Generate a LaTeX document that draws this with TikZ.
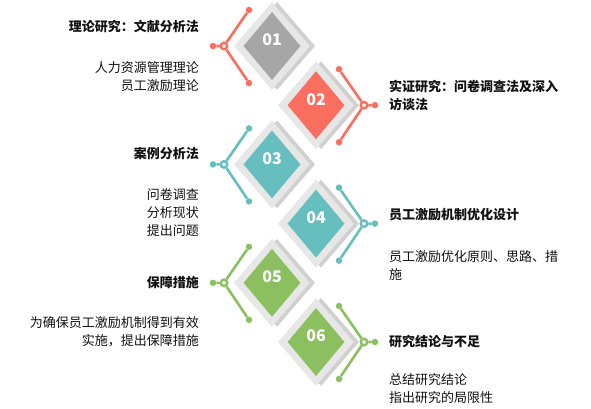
\documentclass[tikz,border=0pt]{standalone}
\usepackage{fontspec}
\setmainfont{Noto Sans CJK SC}
\usetikzlibrary{shapes.geometric}

\definecolor{tilegray}{HTML}{A6A6A6}
\definecolor{coralred}{HTML}{F96E5E}
\definecolor{tealblue}{HTML}{67BEBF}
\definecolor{leafgreen}{HTML}{8CBF5F}
\definecolor{framegray}{HTML}{E7E7E7}
\definecolor{shadegray}{HTML}{D0D0D0}
\definecolor{inkblack}{HTML}{111111}

\begin{document}
\begin{tikzpicture}[x=1pt,y=-1pt,
    backdrop/.style={diamond,fill=shadegray,minimum width=76pt,minimum height=88pt,inner sep=0pt},
    rim/.style={backdrop,fill=framegray},
    tile/.style={diamond,minimum width=57pt,minimum height=68pt,inner sep=0pt},
    num/.style={text=white,font=\bfseries\fontsize{16}{16}\selectfont,inner sep=0pt},
    dot/.style={circle,fill=#1,minimum size=6.5pt,inner sep=0pt},
    ring/.style={circle,draw=#1,fill=white,line width=2.4pt,minimum size=6.5pt,inner sep=0pt},
    wire/.style={draw=#1,line width=2.6pt},
    head/.style={text=inkblack,font=\bfseries\fontsize{13}{18}\selectfont,inner sep=0pt},
    body/.style={text=inkblack,font=\fontsize{13}{18}\selectfont,inner sep=0pt}]

  \useasboundingbox (0,0) rectangle (591,408);

  % stacked diamonds
  \foreach \n/\x/\y/\c in {1/272/46/tilegray,2/316/105.2/coralred,3/272/164.4/tealblue,
                           4/316/223.6/tealblue,5/272/282.8/leafgreen,6/316/342/leafgreen} {
    \node[backdrop] (s\n) at (\x+5,\y) {};
    \node[rim] (f\n) at (\x,\y) {};
    \node[tile,fill=\c] (t\n) at (\x,\y) {};
    \node[num] (n\n) at (\x,\y-6) {0\n};
  }

  % brackets with ring
  \foreach \n/\s/\c in {1/-1/coralred,2/1/coralred,3/-1/tealblue,
                        4/1/tealblue,5/-1/leafgreen,6/1/leafgreen} {
    \node[ring=\c] (r\n) at ([shift={(\s*48,0)}]t\n.center) {};
    \node[dot=\c] (e\n) at ([shift={(\s*59,0)}]t\n.center) {};
    \node[dot=\c] (a\n) at ([shift={(\s*23,-36)}]t\n.center) {};
    \node[dot=\c] (b\n) at ([shift={(\s*23,37)}]t\n.center) {};
    \draw[wire=\c] (a\n) -- (r\n) -- (b\n) (r\n) -- (e\n);
  }

  % left column
  \node[head,anchor=east] (h1) at (199,26.7) {理论研究：文献分析法};
  \node[body,anchor=east,align=right] (d1) at (199,76.5) {人力资源管理理论\\员工激励理论};
  \node[head,anchor=east] (h3) at (199,154) {案例分析法};
  \node[body,anchor=east,align=right] (d3) at (199,213) {问卷调查\\分析现状\\提出问题};
  \node[head,anchor=east] (h5) at (199,282.7) {保障措施};
  \node[body,anchor=east,align=right] (d5) at (199,331.7) {为确保员工激励机制得到有效\\实施，提出保障措施};

  % right column
  \node[head,anchor=west,align=left] (h2) at (389,95) {实证研究：问卷调查法及深入\\访谈法};
  \node[head,anchor=west] (h4) at (389,215) {员工激励机制优化设计};
  \node[body,anchor=west,align=left] (d4) at (389,265.3) {员工激励优化原则、思路、措\\施};
  \node[head,anchor=west] (h6) at (389,341.7) {研究结论与不足};
  \node[body,anchor=west,align=left] (d6) at (389,389) {总结研究结论\\指出研究的局限性};
\end{tikzpicture}
\end{document}
